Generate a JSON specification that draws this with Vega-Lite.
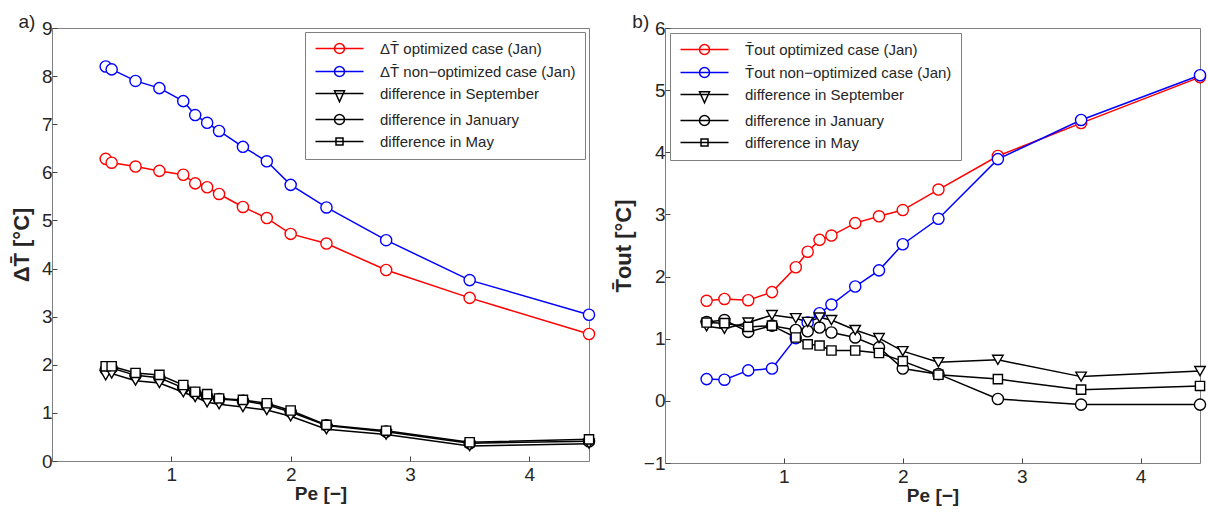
{
  "$schema": "https://vega.github.io/schema/vega-lite/v6.json",
  "padding": {"left": 9, "top": 12, "right": 5, "bottom": 2},
  "config": {
    "font": "Liberation Sans",
    "view": {"stroke": "#7f7f7f", "strokeWidth": 1},
    "axis": {"grid": false, "domain": false, "tickColor": "#444444", "tickSize": -5, "labelFontSize": 19, "labelColor": "#262626", "titleFontSize": 19, "titleFontWeight": "bold", "titleColor": "#262626", "labelPadding": 5, "labelFont": "Liberation Sans", "titleFont": "Liberation Sans"},
    "axisX": {"labelPadding": 9, "titlePadding": 0},
    "axisY": {"titlePadding": 8, "titleFontSize": 22},
    "legend": {"padding": 9, "strokeColor": "#7f7f7f", "fillColor": "white", "labelFontSize": 15, "labelColor": "#262626", "labelFont": "Liberation Sans", "labelLimit": 400, "symbolSize": 100, "symbolStrokeWidth": 1.5, "symbolOffset": 18, "labelOffset": 33, "rowPadding": 6},
    "title": {"font": "Liberation Sans", "fontSize": 19, "fontWeight": "normal", "color": "#262626"}
  },
  "datasets": {
    "a": [
      {"x": 0.45, "y": 6.28, "s": "ΔT̄ optimized case (Jan)"},
      {"x": 0.5, "y": 6.2, "s": "ΔT̄ optimized case (Jan)"},
      {"x": 0.7, "y": 6.12, "s": "ΔT̄ optimized case (Jan)"},
      {"x": 0.9, "y": 6.03, "s": "ΔT̄ optimized case (Jan)"},
      {"x": 1.1, "y": 5.95, "s": "ΔT̄ optimized case (Jan)"},
      {"x": 1.2, "y": 5.77, "s": "ΔT̄ optimized case (Jan)"},
      {"x": 1.3, "y": 5.69, "s": "ΔT̄ optimized case (Jan)"},
      {"x": 1.4, "y": 5.55, "s": "ΔT̄ optimized case (Jan)"},
      {"x": 1.6, "y": 5.28, "s": "ΔT̄ optimized case (Jan)"},
      {"x": 1.8, "y": 5.05, "s": "ΔT̄ optimized case (Jan)"},
      {"x": 2.0, "y": 4.72, "s": "ΔT̄ optimized case (Jan)"},
      {"x": 2.3, "y": 4.52, "s": "ΔT̄ optimized case (Jan)"},
      {"x": 2.8, "y": 3.97, "s": "ΔT̄ optimized case (Jan)"},
      {"x": 3.5, "y": 3.39, "s": "ΔT̄ optimized case (Jan)"},
      {"x": 4.5, "y": 2.64, "s": "ΔT̄ optimized case (Jan)"},
      {"x": 0.45, "y": 8.2, "s": "ΔT̄ non−optimized case (Jan)"},
      {"x": 0.5, "y": 8.14, "s": "ΔT̄ non−optimized case (Jan)"},
      {"x": 0.7, "y": 7.9, "s": "ΔT̄ non−optimized case (Jan)"},
      {"x": 0.9, "y": 7.75, "s": "ΔT̄ non−optimized case (Jan)"},
      {"x": 1.1, "y": 7.48, "s": "ΔT̄ non−optimized case (Jan)"},
      {"x": 1.2, "y": 7.19, "s": "ΔT̄ non−optimized case (Jan)"},
      {"x": 1.3, "y": 7.03, "s": "ΔT̄ non−optimized case (Jan)"},
      {"x": 1.4, "y": 6.86, "s": "ΔT̄ non−optimized case (Jan)"},
      {"x": 1.6, "y": 6.53, "s": "ΔT̄ non−optimized case (Jan)"},
      {"x": 1.8, "y": 6.23, "s": "ΔT̄ non−optimized case (Jan)"},
      {"x": 2.0, "y": 5.74, "s": "ΔT̄ non−optimized case (Jan)"},
      {"x": 2.3, "y": 5.27, "s": "ΔT̄ non−optimized case (Jan)"},
      {"x": 2.8, "y": 4.59, "s": "ΔT̄ non−optimized case (Jan)"},
      {"x": 3.5, "y": 3.76, "s": "ΔT̄ non−optimized case (Jan)"},
      {"x": 4.5, "y": 3.04, "s": "ΔT̄ non−optimized case (Jan)"},
      {"x": 0.45, "y": 1.78, "s": "difference in September"},
      {"x": 0.5, "y": 1.82, "s": "difference in September"},
      {"x": 0.7, "y": 1.67, "s": "difference in September"},
      {"x": 0.9, "y": 1.62, "s": "difference in September"},
      {"x": 1.1, "y": 1.43, "s": "difference in September"},
      {"x": 1.2, "y": 1.33, "s": "difference in September"},
      {"x": 1.3, "y": 1.22, "s": "difference in September"},
      {"x": 1.4, "y": 1.18, "s": "difference in September"},
      {"x": 1.6, "y": 1.12, "s": "difference in September"},
      {"x": 1.8, "y": 1.06, "s": "difference in September"},
      {"x": 2.0, "y": 0.93, "s": "difference in September"},
      {"x": 2.3, "y": 0.66, "s": "difference in September"},
      {"x": 2.8, "y": 0.55, "s": "difference in September"},
      {"x": 3.5, "y": 0.31, "s": "difference in September"},
      {"x": 4.5, "y": 0.36, "s": "difference in September"},
      {"x": 0.45, "y": 1.9, "s": "difference in January"},
      {"x": 0.5, "y": 1.93, "s": "difference in January"},
      {"x": 0.7, "y": 1.78, "s": "difference in January"},
      {"x": 0.9, "y": 1.73, "s": "difference in January"},
      {"x": 1.1, "y": 1.52, "s": "difference in January"},
      {"x": 1.2, "y": 1.41, "s": "difference in January"},
      {"x": 1.3, "y": 1.34, "s": "difference in January"},
      {"x": 1.4, "y": 1.29, "s": "difference in January"},
      {"x": 1.6, "y": 1.25, "s": "difference in January"},
      {"x": 1.8, "y": 1.17, "s": "difference in January"},
      {"x": 2.0, "y": 1.02, "s": "difference in January"},
      {"x": 2.3, "y": 0.74, "s": "difference in January"},
      {"x": 2.8, "y": 0.61, "s": "difference in January"},
      {"x": 3.5, "y": 0.37, "s": "difference in January"},
      {"x": 4.5, "y": 0.41, "s": "difference in January"},
      {"x": 0.45, "y": 1.97, "s": "difference in May"},
      {"x": 0.5, "y": 1.97, "s": "difference in May"},
      {"x": 0.7, "y": 1.83, "s": "difference in May"},
      {"x": 0.9, "y": 1.79, "s": "difference in May"},
      {"x": 1.1, "y": 1.58, "s": "difference in May"},
      {"x": 1.2, "y": 1.44, "s": "difference in May"},
      {"x": 1.3, "y": 1.39, "s": "difference in May"},
      {"x": 1.4, "y": 1.3, "s": "difference in May"},
      {"x": 1.6, "y": 1.27, "s": "difference in May"},
      {"x": 1.8, "y": 1.2, "s": "difference in May"},
      {"x": 2.0, "y": 1.05, "s": "difference in May"},
      {"x": 2.3, "y": 0.75, "s": "difference in May"},
      {"x": 2.8, "y": 0.63, "s": "difference in May"},
      {"x": 3.5, "y": 0.39, "s": "difference in May"},
      {"x": 4.5, "y": 0.45, "s": "difference in May"}
    ],
    "b": [
      {"x": 0.35, "y": 1.61, "s": "T̄out optimized case (Jan)"},
      {"x": 0.5, "y": 1.64, "s": "T̄out optimized case (Jan)"},
      {"x": 0.7, "y": 1.62, "s": "T̄out optimized case (Jan)"},
      {"x": 0.9, "y": 1.75, "s": "T̄out optimized case (Jan)"},
      {"x": 1.1, "y": 2.15, "s": "T̄out optimized case (Jan)"},
      {"x": 1.2, "y": 2.4, "s": "T̄out optimized case (Jan)"},
      {"x": 1.3, "y": 2.59, "s": "T̄out optimized case (Jan)"},
      {"x": 1.4, "y": 2.66, "s": "T̄out optimized case (Jan)"},
      {"x": 1.6, "y": 2.86, "s": "T̄out optimized case (Jan)"},
      {"x": 1.8, "y": 2.97, "s": "T̄out optimized case (Jan)"},
      {"x": 2.0, "y": 3.07, "s": "T̄out optimized case (Jan)"},
      {"x": 2.3, "y": 3.4, "s": "T̄out optimized case (Jan)"},
      {"x": 2.8, "y": 3.94, "s": "T̄out optimized case (Jan)"},
      {"x": 3.5, "y": 4.47, "s": "T̄out optimized case (Jan)"},
      {"x": 4.5, "y": 5.21, "s": "T̄out optimized case (Jan)"},
      {"x": 0.35, "y": 0.35, "s": "T̄out non−optimized case (Jan)"},
      {"x": 0.5, "y": 0.34, "s": "T̄out non−optimized case (Jan)"},
      {"x": 0.7, "y": 0.49, "s": "T̄out non−optimized case (Jan)"},
      {"x": 0.9, "y": 0.52, "s": "T̄out non−optimized case (Jan)"},
      {"x": 1.1, "y": 1.01, "s": "T̄out non−optimized case (Jan)"},
      {"x": 1.2, "y": 1.26, "s": "T̄out non−optimized case (Jan)"},
      {"x": 1.3, "y": 1.41, "s": "T̄out non−optimized case (Jan)"},
      {"x": 1.4, "y": 1.55, "s": "T̄out non−optimized case (Jan)"},
      {"x": 1.6, "y": 1.84, "s": "T̄out non−optimized case (Jan)"},
      {"x": 1.8, "y": 2.1, "s": "T̄out non−optimized case (Jan)"},
      {"x": 2.0, "y": 2.52, "s": "T̄out non−optimized case (Jan)"},
      {"x": 2.3, "y": 2.93, "s": "T̄out non−optimized case (Jan)"},
      {"x": 2.8, "y": 3.89, "s": "T̄out non−optimized case (Jan)"},
      {"x": 3.5, "y": 4.52, "s": "T̄out non−optimized case (Jan)"},
      {"x": 4.5, "y": 5.24, "s": "T̄out non−optimized case (Jan)"},
      {"x": 0.35, "y": 1.2, "s": "difference in September"},
      {"x": 0.5, "y": 1.16, "s": "difference in September"},
      {"x": 0.7, "y": 1.26, "s": "difference in September"},
      {"x": 0.9, "y": 1.38, "s": "difference in September"},
      {"x": 1.1, "y": 1.33, "s": "difference in September"},
      {"x": 1.2, "y": 1.27, "s": "difference in September"},
      {"x": 1.3, "y": 1.34, "s": "difference in September"},
      {"x": 1.4, "y": 1.3, "s": "difference in September"},
      {"x": 1.6, "y": 1.14, "s": "difference in September"},
      {"x": 1.8, "y": 1.01, "s": "difference in September"},
      {"x": 2.0, "y": 0.8, "s": "difference in September"},
      {"x": 2.3, "y": 0.62, "s": "difference in September"},
      {"x": 2.8, "y": 0.66, "s": "difference in September"},
      {"x": 3.5, "y": 0.39, "s": "difference in September"},
      {"x": 4.5, "y": 0.48, "s": "difference in September"},
      {"x": 0.35, "y": 1.27, "s": "difference in January"},
      {"x": 0.5, "y": 1.3, "s": "difference in January"},
      {"x": 0.7, "y": 1.11, "s": "difference in January"},
      {"x": 0.9, "y": 1.21, "s": "difference in January"},
      {"x": 1.1, "y": 1.14, "s": "difference in January"},
      {"x": 1.2, "y": 1.12, "s": "difference in January"},
      {"x": 1.3, "y": 1.18, "s": "difference in January"},
      {"x": 1.4, "y": 1.1, "s": "difference in January"},
      {"x": 1.6, "y": 1.02, "s": "difference in January"},
      {"x": 1.8, "y": 0.86, "s": "difference in January"},
      {"x": 2.0, "y": 0.52, "s": "difference in January"},
      {"x": 2.3, "y": 0.43, "s": "difference in January"},
      {"x": 2.8, "y": 0.03, "s": "difference in January"},
      {"x": 3.5, "y": -0.06, "s": "difference in January"},
      {"x": 4.5, "y": -0.06, "s": "difference in January"},
      {"x": 0.35, "y": 1.26, "s": "difference in May"},
      {"x": 0.5, "y": 1.25, "s": "difference in May"},
      {"x": 0.7, "y": 1.19, "s": "difference in May"},
      {"x": 0.9, "y": 1.21, "s": "difference in May"},
      {"x": 1.1, "y": 1.02, "s": "difference in May"},
      {"x": 1.2, "y": 0.91, "s": "difference in May"},
      {"x": 1.3, "y": 0.89, "s": "difference in May"},
      {"x": 1.4, "y": 0.81, "s": "difference in May"},
      {"x": 1.6, "y": 0.81, "s": "difference in May"},
      {"x": 1.8, "y": 0.77, "s": "difference in May"},
      {"x": 2.0, "y": 0.64, "s": "difference in May"},
      {"x": 2.3, "y": 0.42, "s": "difference in May"},
      {"x": 2.8, "y": 0.35, "s": "difference in May"},
      {"x": 3.5, "y": 0.18, "s": "difference in May"},
      {"x": 4.5, "y": 0.24, "s": "difference in May"}
    ]
  },
  "spacing": 13,
  "resolve": {"scale": {"color": "independent", "shape": "independent", "stroke": "independent"}, "legend": {"color": "independent", "shape": "independent", "stroke": "independent"}},
  "hconcat": [
    {
      "width": 537,
      "height": 433,
      "title": {"text": "a)", "anchor": "start", "frame": "bounds", "offset": -6, "dx": 8, "dy": 7},
      "data": {"name": "a"},
      "encoding": {
        "x": {"field": "x", "type": "quantitative", "scale": {"domain": [0, 4.5], "nice": false, "zero": false}, "axis": {"values": [1, 2, 3, 4], "title": "Pe [−]"}},
        "y": {"field": "y", "type": "quantitative", "scale": {"domain": [0, 9], "nice": false}, "axis": {"values": [0, 1, 2, 3, 4, 5, 6, 7, 8, 9], "title": "ΔT̄ [°C]"}}
      },
      "layer": [
        {"mark": {"type": "line", "strokeWidth": 1.5},
          "encoding": {"stroke": {"field": "s", "type": "nominal", "sort": null, "legend": null, "scale": {"domain": ["ΔT̄ non−optimized case (Jan)", "ΔT̄ optimized case (Jan)", "difference in May", "difference in January", "difference in September"], "range": ["#0000ff", "#ff0000", "#000000", "#000000", "#000000"]}}}},
        {"transform": [{"filter": "datum.s != 'difference in September' && datum.s != 'difference in May'"}],
          "mark": {"type": "point", "shape": "circle", "filled": true, "fill": "white", "size": 125, "strokeWidth": 1.4, "opacity": 1},
          "encoding": {"stroke": {"field": "s", "type": "nominal", "sort": null, "legend": null, "scale": {"domain": ["ΔT̄ non−optimized case (Jan)", "ΔT̄ optimized case (Jan)", "difference in May", "difference in January", "difference in September"], "range": ["#0000ff", "#ff0000", "#000000", "#000000", "#000000"]}}}},
        {"transform": [{"filter": "datum.s == 'difference in September'"}],
          "mark": {"type": "point", "shape": "triangle-down", "filled": true, "fill": "white", "stroke": "#000000", "size": 110, "strokeWidth": 1.4, "opacity": 1}},
        {"transform": [{"filter": "datum.s == 'difference in May'"}],
          "mark": {"type": "point", "shape": "square", "filled": true, "fill": "white", "stroke": "#000000", "size": 85, "strokeWidth": 1.4, "opacity": 1}},
        {"transform": [{"filter": "datum.x < 0"}],
          "mark": {"type": "point", "filled": false, "size": 100, "strokeWidth": 1.5, "opacity": 1},
          "encoding": {
            "color": {"field": "s", "type": "nominal", "sort": null, "scale": {"domain": ["ΔT̄ optimized case (Jan)", "ΔT̄ non−optimized case (Jan)", "difference in September", "difference in January", "difference in May"], "range": ["#ff0000", "#0000ff", "#000000", "#000000", "#000000"]},
              "legend": {"title": null, "orient": "top-right", "offset": 4}},
            "shape": {"field": "s", "type": "nominal", "sort": null, "scale": {"domain": ["ΔT̄ optimized case (Jan)", "ΔT̄ non−optimized case (Jan)", "difference in September", "difference in January", "difference in May"], "range": ["M-4.8,0H4.8M1,0A1,1,0,1,1,-1,0A1,1,0,1,1,1,0", "M-4.8,0H4.8M1,0A1,1,0,1,1,-1,0A1,1,0,1,1,1,0", "M-4.8,0H4.8M-1,-0.55H1L0,1.65Z", "M-4.8,0H4.8M1,0A1,1,0,1,1,-1,0A1,1,0,1,1,1,0", "M-4.8,0H4.8M-0.7,-0.7H0.7V0.7H-0.7Z"]},
              "legend": {"title": null, "orient": "top-right", "offset": 4}}
          }}
      ]
    },
    {
      "width": 535,
      "height": 435,
      "title": {"text": "b)", "anchor": "start", "frame": "bounds", "offset": -6, "dx": 20, "dy": 7},
      "data": {"name": "b"},
      "encoding": {
        "x": {"field": "x", "type": "quantitative", "scale": {"domain": [0, 4.5], "nice": false, "zero": false}, "axis": {"values": [1, 2, 3, 4], "title": "Pe [−]"}},
        "y": {"field": "y", "type": "quantitative", "scale": {"domain": [-1, 6], "nice": false}, "axis": {"values": [-1, 0, 1, 2, 3, 4, 5, 6], "title": "T̄out [°C]", "labelExpr": "replace(datum.label, '-', '−')"}}
      },
      "layer": [
        {"mark": {"type": "line", "strokeWidth": 1.5},
          "encoding": {"stroke": {"field": "s", "type": "nominal", "sort": null, "legend": null, "scale": {"domain": ["T̄out non−optimized case (Jan)", "T̄out optimized case (Jan)", "difference in May", "difference in January", "difference in September"], "range": ["#0000ff", "#ff0000", "#000000", "#000000", "#000000"]}}}},
        {"transform": [{"filter": "datum.s != 'difference in September' && datum.s != 'difference in May'"}],
          "mark": {"type": "point", "shape": "circle", "filled": true, "fill": "white", "size": 125, "strokeWidth": 1.4, "opacity": 1},
          "encoding": {"stroke": {"field": "s", "type": "nominal", "sort": null, "legend": null, "scale": {"domain": ["T̄out non−optimized case (Jan)", "T̄out optimized case (Jan)", "difference in May", "difference in January", "difference in September"], "range": ["#0000ff", "#ff0000", "#000000", "#000000", "#000000"]}}}},
        {"transform": [{"filter": "datum.s == 'difference in September'"}],
          "mark": {"type": "point", "shape": "triangle-down", "filled": true, "fill": "white", "stroke": "#000000", "size": 110, "strokeWidth": 1.4, "opacity": 1}},
        {"transform": [{"filter": "datum.s == 'difference in May'"}],
          "mark": {"type": "point", "shape": "square", "filled": true, "fill": "white", "stroke": "#000000", "size": 85, "strokeWidth": 1.4, "opacity": 1}},
        {"transform": [{"filter": "datum.x < 0"}],
          "mark": {"type": "point", "filled": false, "size": 100, "strokeWidth": 1.5, "opacity": 1},
          "encoding": {
            "color": {"field": "s", "type": "nominal", "sort": null, "scale": {"domain": ["T̄out optimized case (Jan)", "T̄out non−optimized case (Jan)", "difference in September", "difference in January", "difference in May"], "range": ["#ff0000", "#0000ff", "#000000", "#000000", "#000000"]},
              "legend": {"title": null, "orient": "top-left", "offset": 5}},
            "shape": {"field": "s", "type": "nominal", "sort": null, "scale": {"domain": ["T̄out optimized case (Jan)", "T̄out non−optimized case (Jan)", "difference in September", "difference in January", "difference in May"], "range": ["M-4.8,0H4.8M1,0A1,1,0,1,1,-1,0A1,1,0,1,1,1,0", "M-4.8,0H4.8M1,0A1,1,0,1,1,-1,0A1,1,0,1,1,1,0", "M-4.8,0H4.8M-1,-0.55H1L0,1.65Z", "M-4.8,0H4.8M1,0A1,1,0,1,1,-1,0A1,1,0,1,1,1,0", "M-4.8,0H4.8M-0.7,-0.7H0.7V0.7H-0.7Z"]},
              "legend": {"title": null, "orient": "top-left", "offset": 5}}
          }}
      ]
    }
  ]
}
